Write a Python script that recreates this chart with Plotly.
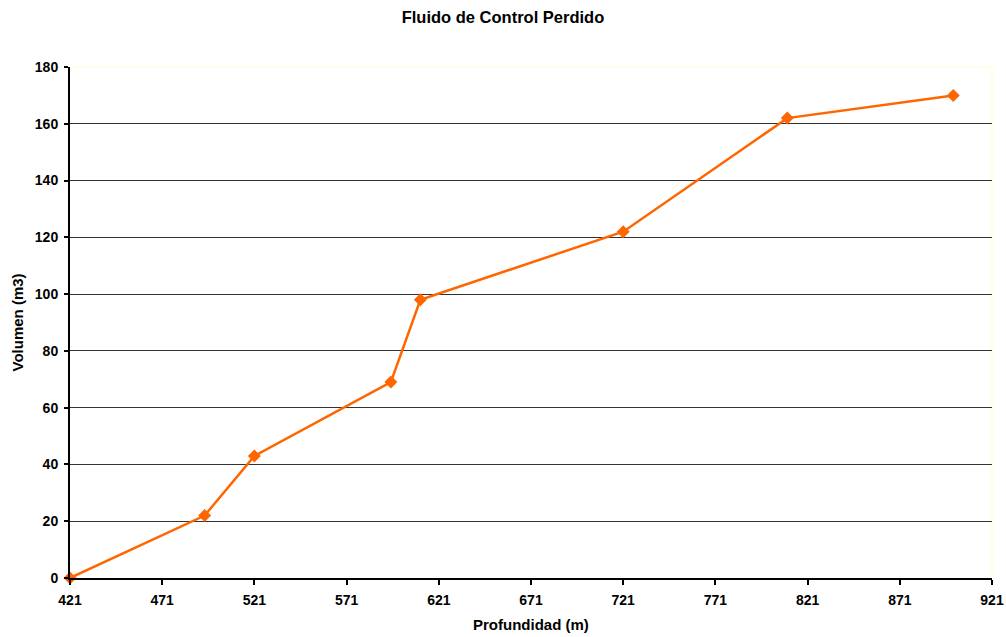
import plotly.graph_objects as go

# Depth (m) vs. lost control fluid volume (m3)
profundidad = [421, 494, 521, 595, 611, 721, 810, 900]
volumen = [0, 22, 43, 69, 98, 122, 162, 170]

x_ticks = [421, 471, 521, 571, 621, 671, 721, 771, 821, 871, 921]
y_ticks = [0, 20, 40, 60, 80, 100, 120, 140, 160, 180]

FONT = "Liberation Sans, Arial, sans-serif"
ORANGE = "#FF6600"
W, H = 1006, 637

fig = go.Figure()
fig.add_trace(go.Scatter(
    x=profundidad,
    y=volumen,
    mode="lines+markers",
    line=dict(color=ORANGE, width=2.5),
    marker=dict(symbol="diamond", size=10, color=ORANGE),
    cliponaxis=False,
    showlegend=False,
))

fig.update_layout(
    width=W,
    height=H,
    margin=dict(l=70, r=14, t=67, b=59),
    paper_bgcolor="white",
    plot_bgcolor="white",
    title=dict(
        text="<b>Fluido de Control Perdido</b>",
        x=0.5, xanchor="center",
        y=1 - 17 / H, yanchor="middle",
        font=dict(family=FONT, size=16.5, color="black"),
    ),
    font=dict(family=FONT, color="black"),
    xaxis=dict(
        range=[421, 921],
        automargin=False,
        tickmode="array",
        tickvals=x_ticks,
        ticktext=[f"<b>{v}</b>" for v in x_ticks],
        tickfont=dict(size=14),
        ticks="outside",
        ticklen=5,
        tickwidth=2,
        tickcolor="black",
        ticklabelstandoff=3,
        showline=True,
        linecolor="black",
        linewidth=2,
        showgrid=False,
        zeroline=False,
    ),
    yaxis=dict(
        range=[0, 180],
        automargin=False,
        tickmode="array",
        tickvals=y_ticks,
        ticktext=[f"<b>{v}</b>" for v in y_ticks],
        tickfont=dict(size=14),
        ticks="outside",
        ticklen=4,
        tickwidth=2,
        tickcolor="black",
        ticklabelstandoff=3,
        showline=True,
        linecolor="black",
        linewidth=2,
        showgrid=True,
        gridcolor="#333333",
        gridwidth=1,
        zeroline=False,
    ),
    annotations=[
        dict(text="<b>Profundidad (m)</b>", xref="paper", yref="paper",
             x=0.5, y=-(624 - 578) / (H - 67 - 59), xanchor="center", yanchor="middle",
             showarrow=False, font=dict(size=15)),
        dict(text="<b>Volumen (m3)</b>", xref="paper", yref="paper",
             x=-(70 - 17) / (W - 70 - 14), y=0.5, xanchor="center", yanchor="middle",
             textangle=-90, showarrow=False, font=dict(size=15)),
    ],
    shapes=[
        dict(type="line", xref="paper", yref="paper", x0=0, x1=1, y0=1, y1=1,
             line=dict(color="#FFFFCC", width=1), layer="above"),
        dict(type="line", xref="paper", yref="paper", x0=1, x1=1, y0=0, y1=1,
             line=dict(color="#FFFFCC", width=1), layer="below"),
    ],
)

fig.write_html("out.html")
